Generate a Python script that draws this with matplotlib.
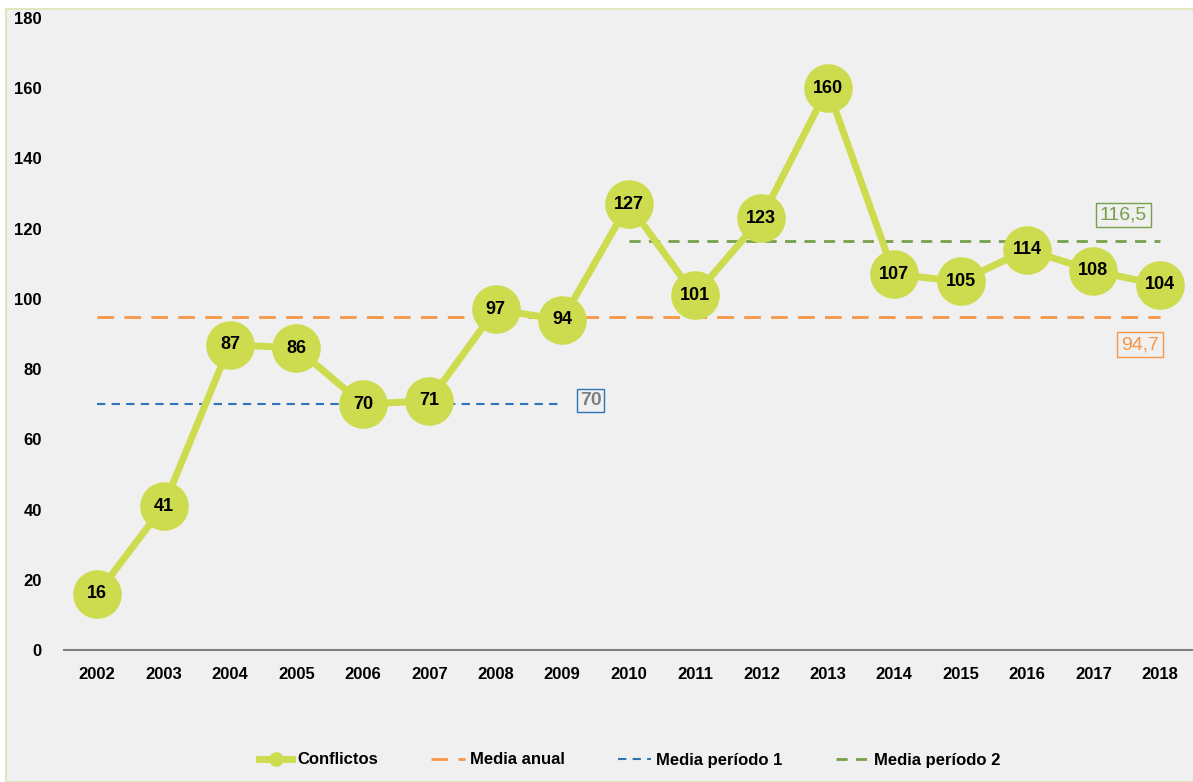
import matplotlib
matplotlib.use("Agg")
import matplotlib.pyplot as plt
from matplotlib.patches import Rectangle

plt.rcParams['font.family'] = ['Liberation Sans', 'DejaVu Sans']

years = ['2002', '2003', '2004', '2005', '2006', '2007', '2008', '2009',
         '2010', '2011', '2012', '2013', '2014', '2015', '2016', '2017', '2018']
conflictos = [16, 41, 87, 86, 70, 71, 97, 94, 127, 101, 123, 160, 107, 105, 114, 108, 104]
media_anual = 94.7
media_p1 = 70
media_p2 = 116.5

fig = plt.figure(figsize=(11.93, 7.82), dpi=100, facecolor='white')
fig.patches.append(Rectangle((6 / 1193, 0), 1.0, 1 - 9 / 782, transform=fig.transFigure,
                             facecolor='#f0f0f0', edgecolor='#dde8bf', linewidth=1.5, zorder=-1))
ax = fig.add_axes([64 / 1193, 1 - 650 / 782, 1 - 64 / 1193, (650 - 18) / 782])
ax.set_facecolor('#f0f0f0')

x = list(range(len(years)))
ax.plot(x, [media_anual] * len(x), color='#f79646', lw=2, dashes=(6, 3.7), label='Media anual', zorder=2)
ax.plot(x[:8], [media_p1] * 8, color='#2e75b6', lw=1.5, dashes=(4, 3), label='Media período 1', zorder=2)
ax.plot(x[8:], [media_p2] * len(x[8:]), color='#77a04a', lw=2, dashes=(4, 3), label='Media período 2', zorder=2)
ax.plot(x, conflictos, color='#cddc4e', lw=5, marker='o', markersize=35,
        markeredgewidth=0, label='Conflictos', zorder=3)

# etiquetas de datos
for xi, v in zip(x, conflictos):
    ax.text(xi, v, str(v), ha='center', va='center', fontsize=13, fontweight='bold',
            color='black', zorder=4)

ax.text(7.43, 71, '70', ha='center', va='center', fontsize=14, fontweight='bold',
        color='#7f7f7f', bbox=dict(boxstyle='square,pad=0.15', fc='#f0f0f0', ec='#2e75b6', lw=1))
ax.text(15.45, 123.9, '116,5', ha='center', va='center', fontsize=14, color='#77a04a',
        bbox=dict(boxstyle='square,pad=0.2', fc='#f0f0f0', ec='#77a04a', lw=1))
ax.text(15.7, 86.9, '94,7', ha='center', va='center', fontsize=14, color='#f79646',
        bbox=dict(boxstyle='square,pad=0.2', fc='#f0f0f0', ec='#f79646', lw=1))

ax.set_xlim(-0.5, len(x) - 0.5)
ax.set_ylim(0, 180)
ax.set_yticks(range(0, 181, 20))
ax.set_xticks(x)
ax.set_xticklabels(years)
ax.tick_params(axis='both', length=0, labelsize=12)
ax.tick_params(axis='y', pad=16)
ax.tick_params(axis='x', pad=12)
for lbl in ax.get_xticklabels() + ax.get_yticklabels():
    lbl.set_fontweight('bold')
for s in ['top', 'right', 'left']:
    ax.spines[s].set_visible(False)
ax.spines['bottom'].set_color('#808080')
ax.spines['bottom'].set_linewidth(1.5)

handles, labels = ax.get_legend_handles_labels()
order = [3, 0, 1, 2]
leg = fig.legend([handles[i] for i in order], [labels[i] for i in order], loc='center',
                 bbox_to_anchor=(0.528, 1 - 760 / 782), ncol=4, frameon=False,
                 fontsize=12, handlelength=2, handletextpad=0.3, columnspacing=3.2,
                 markerscale=0.3)
for t in leg.get_texts():
    t.set_fontweight('bold')

fig.savefig('out.png', dpi=100, facecolor='white')
